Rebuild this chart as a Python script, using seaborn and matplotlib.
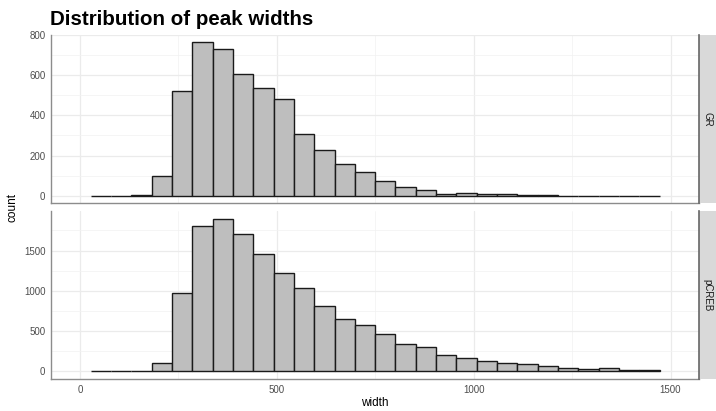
import numpy as np
import pandas as pd
import matplotlib
matplotlib.use("Agg")
import matplotlib.pyplot as plt
import seaborn as sns
from matplotlib.ticker import MultipleLocator

# Histogram bins (peak width, bp)
bin_start = 27.2
bin_width = 51.6
n_bins = 28

# Counts per bin for each mark
gr_counts = [0, 0, 5, 97, 523, 762, 731, 607, 536, 482, 308, 228, 158, 120,
             73, 46, 28, 10, 16, 10, 10, 3, 5, 0, 0, 0, 0, 0]
pcreb_counts = [0, 0, 0, 98, 971, 1807, 1897, 1712, 1463, 1221, 1032, 811, 655,
                578, 463, 340, 299, 209, 164, 123, 102, 90, 66, 41, 25, 37, 21, 21]

marks = ["GR", "pCREB"]
x_ticks = [0, 500, 1000, 1500]
y_ticks = {"GR": [0, 200, 400, 600, 800], "pCREB": [0, 500, 1000, 1500]}
y_minor = {"GR": 100, "pCREB": 250}

edges = bin_start + bin_width * np.arange(n_bins + 1)
centers = (edges[:-1] + edges[1:]) / 2
df = pd.concat([
    pd.DataFrame({"mark": m, "width": centers, "n": c})
    for m, c in zip(marks, [gr_counts, pcreb_counts])
], ignore_index=True)

sns.set_theme(style="white")
plt.rcParams["font.family"] = ["Liberation Sans", "DejaVu Sans"]

W, H = 716, 411
fig = plt.figure(figsize=(W / 100, H / 100), dpi=100)

left, right = 51, 699.3
panels = [(34.7, 203.5), (211, 379)]
strip_w = 16.7

xlim = (-73.7, 1573)
for i, (mark, (top, bot)) in enumerate(zip(marks, panels)):
    ax = fig.add_axes([left / W, 1 - bot / H, (right - left) / W, (bot - top) / H])
    sub = df[df["mark"] == mark]
    sns.histplot(data=sub, x="width", weights="n", bins=list(edges), ax=ax,
                 color="#bebebe", edgecolor="#1a1a1a", linewidth=1.0, alpha=1)
    ymax = max(sub["n"])
    ax.set_ylim(-0.05 * ymax, 1.05 * ymax)
    ax.set_xlim(*xlim)
    ax.set_xticks(x_ticks)
    ax.xaxis.set_minor_locator(MultipleLocator(250))
    ax.set_yticks(y_ticks[mark])
    ax.yaxis.set_minor_locator(MultipleLocator(y_minor[mark]))
    ax.grid(True, which="major", color="#ebebeb", linewidth=0.9)
    ax.grid(True, which="minor", color="#f2f2f2", linewidth=0.5)
    ax.set_axisbelow(True)
    for s in ["top", "right"]:
        ax.spines[s].set_visible(False)
    for s in ["left", "bottom"]:
        ax.spines[s].set_color("#8c8c8c")
        ax.spines[s].set_linewidth(1.0)
    ax.tick_params(axis="both", which="major", length=2.5, width=0.6,
                   color="#555555", labelsize=7, labelcolor="#4d4d4d", pad=1.5)
    ax.tick_params(axis="both", which="minor", length=0)
    ax.set_ylabel("")
    ax.set_xlabel("")
    if i == 0:
        ax.tick_params(axis="x", which="major", labelbottom=False, length=0)

    # facet strip on the right
    sax = fig.add_axes([right / W, 1 - bot / H, strip_w / W, (bot - top) / H])
    sax.set_facecolor("#d9d9d9")
    sax.set_xticks([])
    sax.set_yticks([])
    for s in ["top", "right", "bottom"]:
        sax.spines[s].set_visible(False)
    sax.spines["left"].set_color("#666666")
    sax.spines["left"].set_linewidth(1.2)
    sax.text(0.5, 0.5, mark, rotation=-90, ha="center", va="center",
             fontsize=7, color="#1a1a1a", transform=sax.transAxes)

fig.text(50 / W, 1 - 25 / H, "Distribution of peak widths", fontsize=14.8,
         fontweight="bold", ha="left", va="baseline", color="black")
fig.text(12 / W, 1 - 207 / H, "count", rotation=90, fontsize=8.5,
         ha="center", va="center", color="black")
fig.text(375 / W, 1 - 403 / H, "width", fontsize=8.5,
         ha="center", va="center", color="black")

fig.savefig("out.png", dpi=100)
